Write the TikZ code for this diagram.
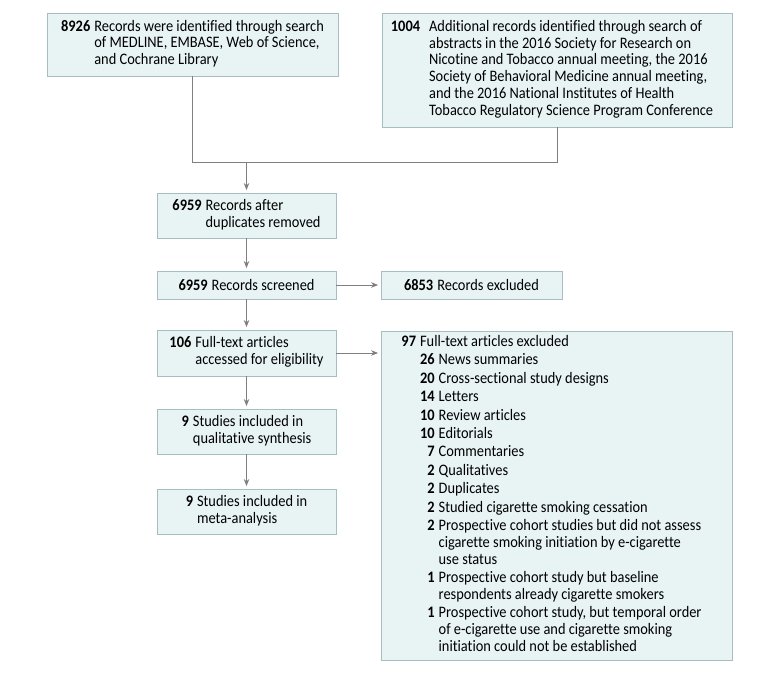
\documentclass[tikz,border=0pt]{standalone}
\usepackage{fontspec}
\setmainfont{Carlito}[FakeStretch=0.9, Ligatures=CommonOff]
\usetikzlibrary{arrows.meta}
\definecolor{boxfill}{HTML}{E8F3F4}
\definecolor{boxline}{HTML}{A6BEC2}
\definecolor{arrgray}{HTML}{7F7F7F}
\newcommand{\flowfont}{\fontsize{16}{16.8}\selectfont}
\tikzset{
  flowbox/.style={draw=boxline, fill=boxfill, line width=0.9pt, inner sep=0pt,
    font=\flowfont, align=left},
  flowarr/.style={draw=arrgray, line width=0.9pt,
    -{Stealth[length=7pt,width=5.5pt]}, shorten >=2.5pt},
  flowline/.style={draw=arrgray, line width=0.9pt}
}
\begin{document}
\begin{tikzpicture}[x=1pt,y=1pt]
\useasboundingbox (0,0) rectangle (780,-674);
\fill[white] (0,0) rectangle (780,-674);

\node[flowbox, minimum width=291pt, minimum height=63pt] (A) at (192.5,-44.5)
 {\begin{tabular}{@{}r@{\hspace{4pt}}l@{}}
 \textbf{8926} & Records were identified through search\\
  & of MEDLINE, EMBASE, Web of Science,\\
  & and Cochrane Library
 \end{tabular}};

\node[flowbox, minimum width=350pt, minimum height=114pt] (B) at (557,-70)
 {\begin{tabular}{@{}r@{\hspace{9pt}}l@{}}
 \textbf{1004} & Additional records identified through search of\\
  & abstracts in the 2016 Society for Research on\\
  & Nicotine and Tobacco annual meeting, the 2016\\
  & Society of Behavioral Medicine annual meeting,\\
  & and the 2016 National Institutes of Health\\
  & Tobacco Regulatory Science Program Conference
 \end{tabular}\hspace{10pt}};

\node[flowbox, minimum width=179pt, minimum height=45pt] (C) at (246.5,-215.5)
 {\begin{tabular}{@{}r@{\hspace{4pt}}l@{}}
 \textbf{6959} & Records after\\
  & duplicates removed
 \end{tabular}};

\node[flowbox, minimum width=179pt, minimum height=28pt] (D) at (246.5,-285)
 {\textbf{6959}\hspace{4pt}Records screened};

\node[flowbox, minimum width=181pt, minimum height=28pt] (E) at (471.5,-285)
 {\textbf{6853}\hspace{4pt}Records excluded};

\node[flowbox, minimum width=179pt, minimum height=46pt] (F) at (246.5,-353)
 {\begin{tabular}{@{}r@{\hspace{4pt}}l@{}}
 \textbf{106} & Full-text articles\\
  & accessed for eligibility
 \end{tabular}};

\node[flowbox, minimum width=179pt, minimum height=45pt] (G) at (246.5,-431.5)
 {\begin{tabular}{@{}r@{\hspace{4pt}}l@{}}
 \textbf{9} & Studies included in\\
  & qualitative synthesis
 \end{tabular}};

\node[flowbox, minimum width=179pt, minimum height=45pt] (H) at (246.5,-511.5)
 {\begin{tabular}{@{}r@{\hspace{4pt}}l@{}}
 \textbf{9} & Studies included in\\
  & meta-analysis
 \end{tabular}};

\node[flowbox, minimum width=351pt, minimum height=329pt] (I) at (556.5,-495.5)
 {\begin{tabular}{@{}r@{\hspace{4pt}}r@{\hspace{4pt}}l@{}}
 \textbf{97} & \multicolumn{2}{@{}l@{}}{Full-text articles excluded}\\[1.6pt]
  & \textbf{26} & News summaries\\[1.6pt]
  & \textbf{20} & Cross-sectional study designs\\[1.6pt]
  & \textbf{14} & Letters\\[1.6pt]
  & \textbf{10} & Review articles\\[1.6pt]
  & \textbf{10} & Editorials\\[1.6pt]
  & \textbf{7} & Commentaries\\[1.6pt]
  & \textbf{2} & Qualitatives\\[1.6pt]
  & \textbf{2} & Duplicates\\[1.6pt]
  & \textbf{2} & Studied cigarette smoking cessation\\[1.6pt]
  & \textbf{2} & Prospective cohort studies but did not assess\\
  & & cigarette smoking initiation by e-cigarette\\
  & & use status\\[1.6pt]
  & \textbf{1} & Prospective cohort study but baseline\\
  & & respondents already cigarette smokers\\[1.6pt]
  & \textbf{1} & Prospective cohort study, but temporal order\\
  & & of e-cigarette use and cigarette smoking\\
  & & initiation could not be established
 \end{tabular}\hspace{10pt}};

\coordinate (jn) at (246.5,-162);
\draw[flowline] (A.south) -- (A.south |- jn) -- (B.south |- jn) -- (B.south);
\draw[flowarr] (jn) -- (C.north);
\draw[flowarr] (C.south) -- (D.north);
\draw[flowarr] (D.east) -- (E.west);
\draw[flowarr] (D.south) -- (F.north);
\draw[flowarr] (F.east) -- (F.east -| I.west);
\draw[flowarr] (F.south) -- (G.north);
\draw[flowarr] (G.south) -- (H.north);
\end{tikzpicture}
\end{document}
